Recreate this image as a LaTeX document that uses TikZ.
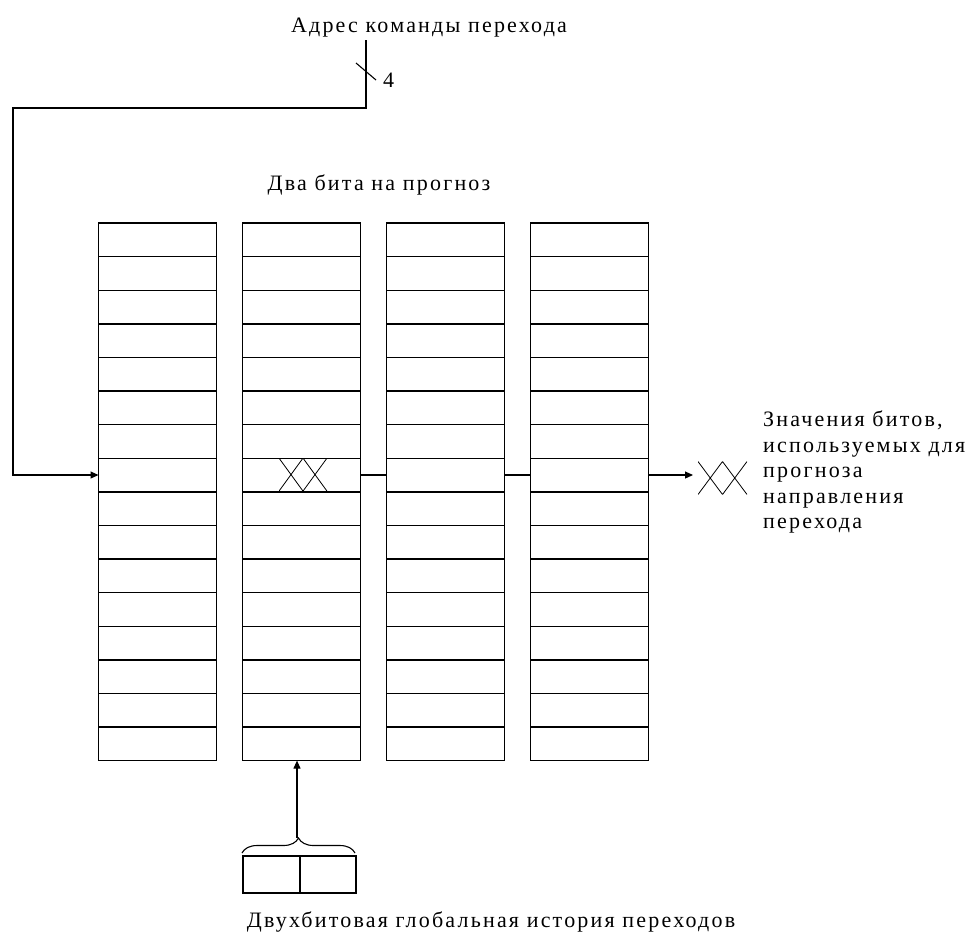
\documentclass[tikz,border=0pt]{standalone}
\usepackage{fontspec}
\setmainfont[LetterSpace=10]{Liberation Serif}
\usetikzlibrary{arrows.meta,decorations.pathreplacing}
\begin{document}
\begin{tikzpicture}[x=1pt,y=-1pt,
  cell/.style={draw,line width=1.4pt,minimum width=118pt,minimum height=33.6pt,inner sep=0pt,outer sep=0pt},
  hbox/.style={draw,line width=1.4pt,minimum height=37pt,inner sep=0pt,outer sep=0pt},
  wire/.style={line width=1.1pt},
  arr/.style={wire,-{Triangle[length=8pt,width=7pt]}},
  lbl/.style={font=\fontsize{22}{25.5}\selectfont,inner sep=0pt},
  xxbox/.style={minimum height=33pt,inner sep=0pt,outer sep=0pt,
    path picture={\draw[line width=0.8pt]
      (path picture bounding box.north west) -- (path picture bounding box.south)
      (path picture bounding box.north) -- (path picture bounding box.south west)
      (path picture bounding box.north) -- (path picture bounding box.south east)
      (path picture bounding box.north east) -- (path picture bounding box.south);}}]
\useasboundingbox (0,0) rectangle (968,935);
% memory columns
\foreach \i in {1,...,4}
  \foreach \j in {1,...,16}
    \node[cell] (c\i-\j) at ({157.5+144*(\i-1)},{223+33.6*(\j-0.5)}) {};
% labels
\node[lbl,anchor=base] (addr) at (429,32) {Адрес команды перехода};
\node[lbl,anchor=base] (two) at (379,190) {Два бита на прогноз};
\node[lbl,anchor=north west,align=left] (vals) at (763,411) {Значения битов,\\используемых для\\прогноза\\направления\\перехода};
\node[lbl,anchor=base] (hist) at (491,927) {Двухбитовая глобальная история переходов};
\node[lbl,anchor=base west] (four) at (383,87) {4};
% address wire
\coordinate (top) at (366,40);
\coordinate (lft) at (13,108);
\draw[arr] (top) |- (lft) |- (c1-8.west);
\draw[wire] (356,63) -- (376,80);
% XX marks
\node[xxbox,minimum width=48pt] (xm) at (303,474.6) {};
\node[xxbox,minimum width=49pt] (xr) at (722.5,478) {};
% row connectors
\draw[wire] (c2-8.east) -- (c3-8.west);
\draw[wire] (c3-8.east) -- (c4-8.west);
\draw[arr,shorten >=5pt] (c4-8.east) -- (c4-8.east -| xr.west);
% history register
\node[hbox,minimum width=57pt] (h1) at (271.5,874.5) {};
\node[hbox,minimum width=56pt] (h2) at (328,874.5) {};
\draw[wire,decorate,decoration={brace,amplitude=15pt}] (242,853) -- (355,853);
\coordinate (bt) at (297,838);
\draw[arr] (bt) -- (bt |- c2-16.south);
\end{tikzpicture}
\end{document}
